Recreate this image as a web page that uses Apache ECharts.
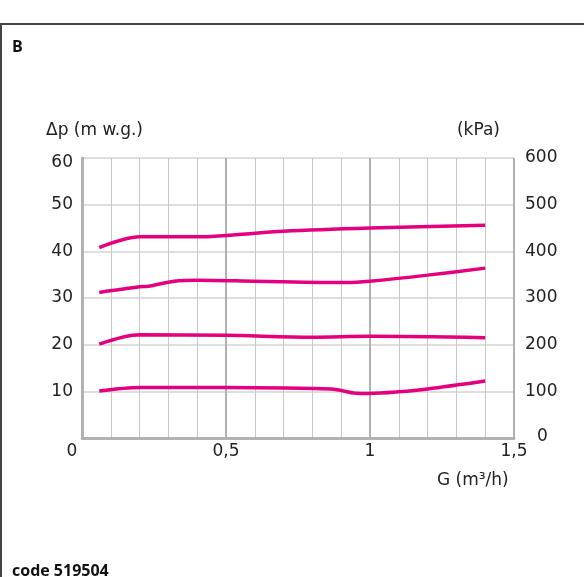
<!DOCTYPE html>
<html>
<head>
<meta charset="utf-8">
<script src="https://cdn.jsdelivr.net/npm/echarts@6/dist/echarts.min.js"></script>
<style>
  html, body { margin: 0; padding: 0; background: #fff; }
  #chart { width: 584px; height: 577px; }
</style>
</head>
<body>
<div id="chart"></div>
<script>
// flow G (m3/h) vs pressure drop (m w.g.), one curve per setting
const curveA = [[0.06, 40.8], [0.2, 43.1], [0.4, 43.1], [0.5, 43.4], [0.7, 44.3], [1.0, 45.0], [1.4, 45.6]];
const curveB = [[0.06, 31.2], [0.2, 32.4], [0.23, 32.5], [0.32, 33.6], [0.4, 33.8], [0.6, 33.6], [0.92, 33.3], [1.0, 33.6], [1.2, 34.9], [1.4, 36.4]];
const curveC = [[0.06, 20.1], [0.2, 22.1], [0.5, 22.0], [0.8, 21.6], [1.0, 21.8], [1.4, 21.5]];
const curveD = [[0.06, 10.05], [0.2, 10.8], [0.5, 10.8], [0.8, 10.6], [0.88, 10.4], [0.95, 9.6], [1.0, 9.55], [1.1, 9.9], [1.2, 10.5], [1.4, 12.2]];
const curves = [curveA, curveB, curveC, curveD];

const labelFont = 'DejaVu Sans';
const textColor = '#222';
const lineColor = '#e5007d';

const chart = echarts.init(document.getElementById('chart'));

function fmtX(v) {
  if (Math.abs(v) < 1e-9) return '{z|0}';
  return String(+v.toFixed(1)).replace('.', ',');
}

const option = {
  animation: false,
  grid: { left: 82, right: 70, top: 158, bottom: 139 },
  xAxis: [
    {
      type: 'value', min: 0, max: 1.5, interval: 0.5,
      axisLine: { show: true, lineStyle: { color: '#b0b0b0', width: 2.5 } },
      axisTick: { show: false },
      axisLabel: {
        color: textColor, fontFamily: labelFont, fontSize: 17, margin: 5,
        formatter: fmtX,
        rich: { z: { fontFamily: labelFont, fontSize: 17, color: textColor, padding: [0, 20, 6, 0] } },
      },
      splitLine: { show: true, lineStyle: { color: '#b0b0b0', width: 2 } },
      z: 3,
    },
    {
      type: 'value', min: 0, max: 1.5, interval: 0.1, position: 'top',
      axisLine: { show: true, lineStyle: { color: '#b0b0b0', width: 2.5 } },
      axisTick: { show: false },
      axisLabel: { show: false },
      splitLine: { show: true, lineStyle: { color: '#c8c8c8', width: 1 } },
    },
  ],
  yAxis: [
    {
      type: 'value', min: 0, max: 60, interval: 10,
      axisLine: { show: true, lineStyle: { color: '#b0b0b0', width: 2.5 } },
      axisTick: { show: false },
      axisLabel: {
        color: textColor, fontFamily: labelFont, fontSize: 17, margin: 9,
        formatter: (v) => (v === 0 ? '' : v === 60 ? '{t|60}' : String(v)),
        rich: {
          t: { fontFamily: labelFont, fontSize: 17, color: textColor, padding: [10, 0, 0, 0] },
        },
      },
      splitLine: { show: true, lineStyle: { color: '#d4d4d4', width: 1.5 } },
    },
    {
      type: 'value', min: 0, max: 600, interval: 100,
      axisLine: { show: true, lineStyle: { color: '#b0b0b0', width: 2.5 } },
      axisTick: { show: false },
      axisLabel: {
        color: textColor, fontFamily: labelFont, fontSize: 17, margin: 11,
        formatter: (v) => (v === 0 ? '{z|0}' : String(v)),
        rich: { z: { fontFamily: labelFont, fontSize: 17, color: textColor, padding: [0, 0, 2, 12] } },
      },
      splitLine: { show: false },
    },
  ],
  graphic: [
    { type: 'line', shape: { x1: 0, y1: 24, x2: 584, y2: 24 }, style: { stroke: '#444', lineWidth: 2 } },
    { type: 'line', shape: { x1: 1, y1: 24, x2: 1, y2: 577 }, style: { stroke: '#444', lineWidth: 2 } },
    { type: 'text', left: 12, top: 39, style: { text: 'B', font: 'bold 16px "Open Sans"', fill: '#111' } },
    { type: 'text', left: 12, top: 563, style: { text: 'code 519504', font: 'bold 16px "Open Sans"', fill: '#111' } },
    { type: 'text', left: 46, top: 122, style: { text: 'Δp (m w.g.)', font: '17px "DejaVu Sans"', fill: textColor } },
    { type: 'text', right: 84, top: 122, style: { text: '(kPa)', font: '17px "DejaVu Sans"', fill: textColor } },
    { type: 'text', left: 437, top: 472, style: { text: 'G (m³/h)', font: '17px "DejaVu Sans"', fill: textColor } },
  ],
  series: curves.map((d) => ({
    type: 'line',
    data: d,
    xAxisIndex: 0,
    yAxisIndex: 0,
    smooth: 0.3,
    symbol: 'none',
    lineStyle: { color: lineColor, width: 3.5 },
    z: 5,
  })),
};

chart.setOption(option);
</script>
</body>
</html>
